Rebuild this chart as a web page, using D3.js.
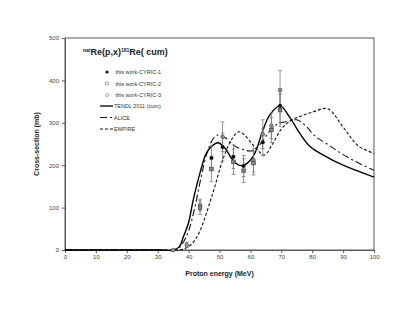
<!DOCTYPE html>
<html>
    <head>
        <style>
            body { margin: 0; background: #fff; }
            text { font-family: "Liberation Sans", Arial, sans-serif; fill: #222; }
        </style>
    </head>
    <body>
        <svg></svg>

        <script src="https://d3js.org/d3.v7.min.js"></script>

        <script>
            // model curves: [energy MeV, cross-section mb]
            const tendl = [[0,0],[30,0],[35,0],[37,8],[38.3,31],[40,65],[41.5,118],[43.7,182],[45.8,229],[48,248],[49.6,253],
                [51.8,240],[54,215],[55.8,202],[57.2,199],[59,205],[61,222],[62.5,248],[64,282],[66.4,320],[69.6,340],
                [72.9,311],[76,275],[79.3,244],[83.6,224],[90,200],[100,172]];
            const alice = [[0,0],[30,0],[36,0],[38,15],[40,45],[42,100],[44,170],[46,230],[48,263],[49.8,272],[52,264],
                [55,245],[58,236],[60.5,234],[63,248],[66,278],[69,298],[72,303],[75,307],[78,292],[81,268],[85,249],
                [90,225],[95,205],[100,188]];
            const empire = [[0,0],[30,0],[37,0],[39,4],[41,14],[43,35],[45,70],[47,115],[48.5,150],[50.7,205],[53,248],
                [55,272],[56.3,279],[58,272],[60,255],[62,238],[64.5,224],[67,248],[70,285],[73,305],[76,315],[80,325],
                [85,333],[90,290],[95,245],[100,228]];

            // measured points
            const cyric1E = [47.4, 51.0, 54.5, 57.8, 64.0, 69.6];
            const cyric1S = [217, 243, 220, 198, 254, 340];
            const cyric1Err = [30, 33, 28, 25, 32, 40];

            const cyric2E = [43.7, 47.4, 54.5, 57.8, 61.0, 66.8, 69.6];
            const cyric2S = [100, 191, 208, 187, 205, 283, 330];
            const cyric2Err = [16, 30, 30, 28, 28, 30, 38];

            const cyric3E = [35.0, 39.4, 43.7, 51.0, 61.0, 64.0, 66.8, 69.6];
            const cyric3S = [0, 12, 106, 267, 212, 273, 293, 377];
            const cyric3Err = [0, 6, 14, 35, 28, 34, 30, 46];

            const xTicks = [0, 10, 20, 30, 40, 50, 60, 70, 80, 90, 100];
            const yTicks = [0, 100, 200, 300, 400, 500];

            const width = 415, height = 321;
            const mLeft = 65, mRight = 374, mTop = 38, mBottom = 250;

            const svg = d3.select("svg").attr("width", width).attr("height", height);

            const x = d3.scaleLinear().domain([0, 100]).range([mLeft, mRight]);
            const y = d3.scaleLinear().domain([0, 500]).range([mBottom, mTop]);

            const frame = "#5a5a5a";

            // frame
            svg.append("rect")
                .attr("x", mLeft).attr("y", mTop)
                .attr("width", mRight - mLeft).attr("height", mBottom - mTop)
                .attr("fill", "none").attr("stroke", frame).attr("stroke-width", 1);

            // axes
            const xAxis = svg.append("g")
                .attr("transform", "translate(0," + mBottom + ")")
                .call(d3.axisBottom(x).tickValues(xTicks).tickSize(3).tickPadding(2));
            const yAxis = svg.append("g")
                .attr("transform", "translate(" + mLeft + ",0)")
                .call(d3.axisLeft(y).tickValues(yTicks).tickSize(3).tickPadding(3));
            [xAxis, yAxis].forEach(function(a) {
                a.select(".domain").attr("stroke", frame);
                a.selectAll(".tick line").attr("stroke", frame);
                a.selectAll("text").attr("font-size", 6).style("fill", "#444")
                    .style("font-family", "'Liberation Sans', Arial, sans-serif");
            });

            // curves
            const line = d3.line()
                .x(function(d) { return x(d[0]); })
                .y(function(d) { return y(d[1]); })
                .curve(d3.curveCatmullRom);

            const plot = svg.append("g");
            plot.append("path").datum(empire).attr("d", line)
                .attr("fill", "none").attr("stroke", "#111").attr("stroke-width", 1.1)
                .attr("stroke-dasharray", "3,2");
            plot.append("path").datum(alice).attr("d", line)
                .attr("fill", "none").attr("stroke", "#111").attr("stroke-width", 1.1)
                .attr("stroke-dasharray", "7,3,2,3");
            plot.append("path").datum(tendl).attr("d", line)
                .attr("fill", "none").attr("stroke", "#000").attr("stroke-width", 1.4);

            // measured points with error bars
            function drawSeries(es, ss, errs, kind) {
                const pts = es.map(function(e, i) { return { e: e, s: ss[i], err: errs[i] }; });
                const g = plot.append("g");
                const eb = g.selectAll("g.eb").data(pts.filter(function(d) { return d.err > 0; }))
                    .enter().append("g").attr("stroke", "#777").attr("stroke-width", 0.8);
                eb.append("line")
                    .attr("x1", function(d) { return x(d.e); }).attr("x2", function(d) { return x(d.e); })
                    .attr("y1", function(d) { return y(d.s - d.err); }).attr("y2", function(d) { return y(d.s + d.err); });
                [1, -1].forEach(function(sgn) {
                    eb.append("line")
                        .attr("x1", function(d) { return x(d.e) - 1.8; }).attr("x2", function(d) { return x(d.e) + 1.8; })
                        .attr("y1", function(d) { return y(d.s + sgn * d.err); })
                        .attr("y2", function(d) { return y(d.s + sgn * d.err); });
                });
                marker(g.selectAll("g.m").data(pts).enter().append("g")
                    .attr("transform", function(d) { return "translate(" + x(d.e) + "," + y(d.s) + ")"; }), kind, false);
            }

            function marker(sel, kind, hollow) {
                if (kind === 1) {
                    sel.append("circle").attr("r", hollow ? 1.6 : 2).attr("fill", "#111");
                } else if (kind === 2) {
                    const s = hollow ? 1.4 : 1.8;
                    sel.append("rect").attr("x", -s).attr("y", -s).attr("width", 2 * s).attr("height", 2 * s)
                        .attr("fill", hollow ? "#fff" : "#888").attr("stroke", hollow ? "#777" : "#333").attr("stroke-width", 0.6);
                } else {
                    sel.append("circle").attr("r", hollow ? 1.5 : 1.9)
                        .attr("fill", hollow ? "#fff" : "#999").attr("stroke", hollow ? "#777" : "#444").attr("stroke-width", 0.6);
                }
            }

            drawSeries(cyric3E, cyric3S, cyric3Err, 3);
            drawSeries(cyric2E, cyric2S, cyric2Err, 2);
            drawSeries(cyric1E, cyric1S, cyric1Err, 1);

            // title
            const title = svg.append("text").attr("x", 83).attr("y", 55)
                .attr("font-weight", "bold").attr("font-size", 9);
            title.append("tspan").attr("font-size", 5).attr("dy", -3).text("nat");
            title.append("tspan").attr("dy", 3).text("Re(p,x)");
            title.append("tspan").attr("font-size", 5).attr("dy", -3).text("181");
            title.append("tspan").attr("dy", 3).text("Re( cum)");

            // legend
            const legendNames = ["this work-CYRIC-1", "this work-CYRIC-2", "this work-CYRIC-3", "TENDL 2011 (cum)", "ALICE", "EMPIRE"];
            const legendY = [72, 83.5, 95, 106, 117.5, 129];
            const dashes = [null, "7,3,2,3", "3,2"];
            legendNames.forEach(function(name, i) {
                const g = svg.append("g").attr("transform", "translate(0," + legendY[i] + ")");
                if (i < 3) {
                    marker(g.append("g").attr("transform", "translate(107,0)"), i + 1, true);
                } else {
                    g.append("line").attr("x1", 100).attr("x2", 113).attr("y1", 0).attr("y2", 0)
                        .attr("stroke", "#111").attr("stroke-width", i === 3 ? 1.4 : 1.1)
                        .attr("stroke-dasharray", dashes[i - 3]);
                }
                g.append("text").attr("x", i < 3 ? 115.5 : 114).attr("y", 2).attr("font-size", 5.5)
                    .style("fill", "#333").text(name);
            });

            // axis titles
            svg.append("text").attr("x", (mLeft + mRight) / 2).attr("y", 276)
                .attr("text-anchor", "middle").attr("font-weight", "bold").attr("font-size", 7)
                .text("Proton energy (MeV)");
            svg.append("text").attr("transform", "translate(39," + ((mTop + mBottom) / 2) + ") rotate(-90)")
                .attr("text-anchor", "middle").attr("font-weight", "bold").attr("font-size", 7)
                .text("Cross-section (mb)");
        </script>
    </body>
</html>
